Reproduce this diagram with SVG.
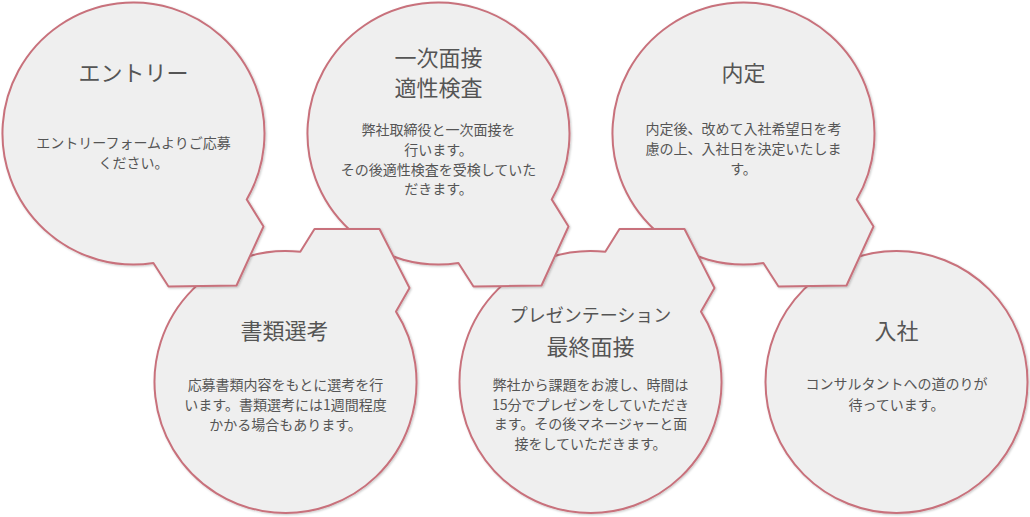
<svg xmlns="http://www.w3.org/2000/svg" xmlns:xlink="http://www.w3.org/1999/xlink" width="1030" height="517" viewBox="0 0 1030 517">
<style>
.shape{fill:#efefef;stroke:#c8717b;stroke-width:2;stroke-linejoin:round;filter:url(#sh)}
.title{font-family:"Noto Sans CJK JP","Noto Sans",sans-serif;font-size:22px;fill:#555;text-anchor:middle}
.title.small{font-size:18px}
.body{font-family:"Noto Sans CJK JP","Noto Sans",sans-serif;font-size:14px;fill:#555;text-anchor:middle}
</style>
<defs>
<filter id="sh" x="-10%" y="-10%" width="120%" height="120%">
<feDropShadow dx="1" dy="1" stdDeviation="1.2" flood-color="#000" flood-opacity="0.22"/>
</filter>
<path id="tabDown" d="M113.2,65.9 L130,93 L103,152 L35,153 L19.9,129.5 A131,131 0 1 1 113.2,65.9 Z"/>
<path id="tabUp" d="M14.8,-130.2 L29,-153 L94,-153 L124,-94 L110.5,-70.4 A131,131 0 1 1 14.8,-130.2 Z"/>
</defs>
<rect width="1030" height="517" fill="#ffffff"/>
<g id="connectors"/>
<g id="node-nyusha">
<circle class="shape" cx="896.5" cy="382" r="131"/>
<text class="title" x="896.5" y="339">入社</text>
<text class="body" x="896.5" y="389">コンサルタントへの道のりが</text>
<text class="body" x="896.5" y="410">待っています。</text>
</g>
<g id="node-naitei">
<use class="shape" href="#tabDown" x="743.5" y="133.5"/>
<text class="title" x="743.5" y="81">内定</text>
<text class="body" x="743.5" y="134">内定後、改めて入社希望日を考</text>
<text class="body" x="743.5" y="154">慮の上、入社日を決定いたしま</text>
<text class="body" x="743.5" y="174">す。</text>
</g>
<g id="node-presentation">
<use class="shape" href="#tabUp" x="590.5" y="382"/>
<text class="title small" x="590.5" y="322">プレゼンテーション</text>
<text class="title" x="590.5" y="355">最終面接</text>
<text class="body" x="590.5" y="390">弊社から課題をお渡し、時間は</text>
<text class="body" x="590.5" y="409.5">15分でプレゼンをしていただき</text>
<text class="body" x="590.5" y="429">ます。その後マネージャーと面</text>
<text class="body" x="590.5" y="448.5">接をしていただきます。</text>
</g>
<g id="node-interview1">
<use class="shape" href="#tabDown" x="438.5" y="133.5"/>
<text class="title" x="438.5" y="66">一次面接</text>
<text class="title" x="438.5" y="96">適性検査</text>
<text class="body" x="438.5" y="134.5">弊社取締役と一次面接を</text>
<text class="body" x="438.5" y="154.5">行います。</text>
<text class="body" x="438.5" y="174.5">その後適性検査を受検していた</text>
<text class="body" x="438.5" y="194">だきます。</text>
</g>
<g id="node-shorui">
<use class="shape" href="#tabUp" x="285.5" y="382"/>
<text class="title" x="284.5" y="338.5">書類選考</text>
<text class="body" x="285.5" y="390">応募書類内容をもとに選考を行</text>
<text class="body" x="285.5" y="410">います。書類選考には1週間程度</text>
<text class="body" x="285.5" y="429.5">かかる場合もあります。</text>
</g>
<g id="node-entry">
<use class="shape" href="#tabDown" x="133.5" y="133.5"/>
<text class="title" x="133.5" y="81">エントリー</text>
<text class="body" x="133.5" y="148">エントリーフォームよりご応募</text>
<text class="body" x="133.5" y="168">ください。</text>
</g>
</svg>
